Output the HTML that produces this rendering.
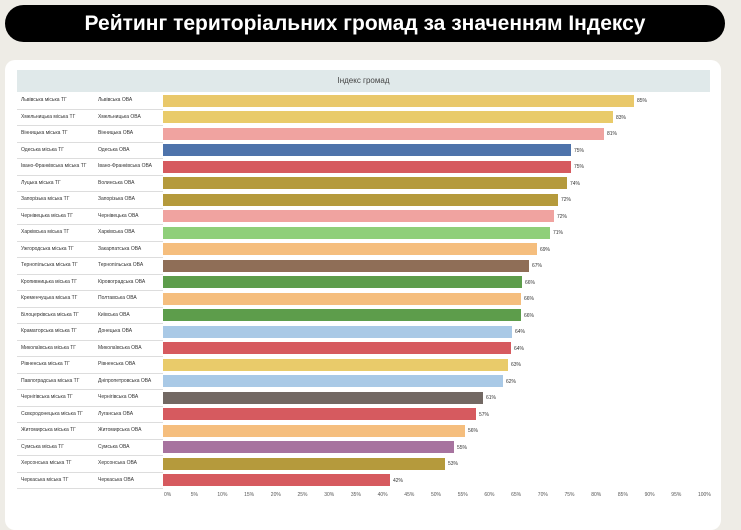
<!DOCTYPE html><html><head><meta charset="utf-8"><style>
body{margin:0;width:741px;height:517px;background:#eeece6;position:relative;overflow:hidden;font-family:"Liberation Sans",sans-serif}
.title{position:absolute;left:5px;top:5px;width:720px;height:37px;background:#000;border-radius:19px;color:#fff;font-weight:bold;font-size:21px;text-align:center;line-height:37px}
.card{position:absolute;left:5px;top:60px;width:716px;height:470px;background:#fff;border-radius:10px}
.hdr{position:absolute;left:17px;top:70px;width:693px;height:22px;background:#e0e9ea;font-size:8px;color:#444;text-align:center;line-height:22px}
.row{position:absolute;left:17px;width:146px;height:16.5px;border-bottom:1px solid #ddd;font-size:5px;color:#333}
.row span{position:absolute;top:5px}
.bar{position:absolute;left:163px;height:12px}
.v{position:absolute;font-size:5px;color:#333}
.t{position:absolute;top:492px;font-size:5px;color:#555}
</style></head><body>
<div class="title">Рейтинг територіальних громад за значенням Індексу</div>
<div class="card"></div>
<div class="hdr">Індекс громад</div>
<div id="c"></div>
<script>
var d=[["Львівська міська ТГ","Львівська ОВА",634,"85%","#e9c86a"],["Хмельницька міська ТГ","Хмельницька ОВА",613,"83%","#e9cb6a"],["Вінницька міська ТГ","Вінницька ОВА",604,"81%","#f0a3a0"],["Одеська міська ТГ","Одеська ОВА",571,"75%","#4e73ab"],["Івано-Франківська міська ТГ","Івано-Франківська ОВА",571,"75%","#d65a5f"],["Луцька міська ТГ","Волинська ОВА",567,"74%","#b59a3c"],["Запорізька міська ТГ","Запорізька ОВА",558,"72%","#b59a3c"],["Чернівецька міська ТГ","Чернівецька ОВА",554,"72%","#f0a3a0"],["Харківська міська ТГ","Харківська ОВА",550,"71%","#8fcf7a"],["Ужгородська міська ТГ","Закарпатська ОВА",537,"69%","#f5be7e"],["Тернопільська міська ТГ","Тернопільська ОВА",529,"67%","#8f6e57"],["Кропивницька міська ТГ","Кіровоградська ОВА",522,"66%","#5d9d4b"],["Кременчуцька міська ТГ","Полтавська ОВА",521,"66%","#f5be7e"],["Білоцерківська міська ТГ","Київська ОВА",521,"66%","#5d9d4b"],["Краматорська міська ТГ","Донецька ОВА",512,"64%","#a9c9e6"],["Миколаївська міська ТГ","Миколаївська ОВА",511,"64%","#d65a5f"],["Рівненська міська ТГ","Рівненська ОВА",508,"63%","#e9cb6a"],["Павлоградська міська ТГ","Дніпропетровська ОВА",503,"62%","#a9c9e6"],["Чернігівська міська ТГ","Чернігівська ОВА",483,"61%","#726863"],["Сєвєродонецька міська ТГ","Луганська ОВА",476,"57%","#d65a5f"],["Житомирська міська ТГ","Житомирська ОВА",465,"56%","#f5be7e"],["Сумська міська ТГ","Сумська ОВА",454,"55%","#a7739f"],["Херсонська міська ТГ","Херсонська ОВА",445,"53%","#b59a3c"],["Черкаська міська ТГ","Черкаська ОВА",390,"42%","#d65a5f"]];
var h="";d.forEach(function(r,i){var y=92+i*16.52;
h+='<div class="row" style="top:'+y+'px"><span style="left:4px">'+r[0]+'</span><span style="left:81px">'+r[1]+'</span></div>';
h+='<div class="bar" style="top:'+(y+2.5)+'px;width:'+(r[2]-163)+'px;background:'+r[4]+'"></div>';
h+='<div class="v" style="top:'+(y+6)+'px;left:'+(r[2]+3)+'px">'+r[3]+'</div>';});
for(var k=0;k<=20;k++){h+='<div class="t" style="left:'+(164+k*26.7)+'px">'+(k*5)+'%</div>';}
document.getElementById("c").innerHTML=h;
</script>
</body></html>
